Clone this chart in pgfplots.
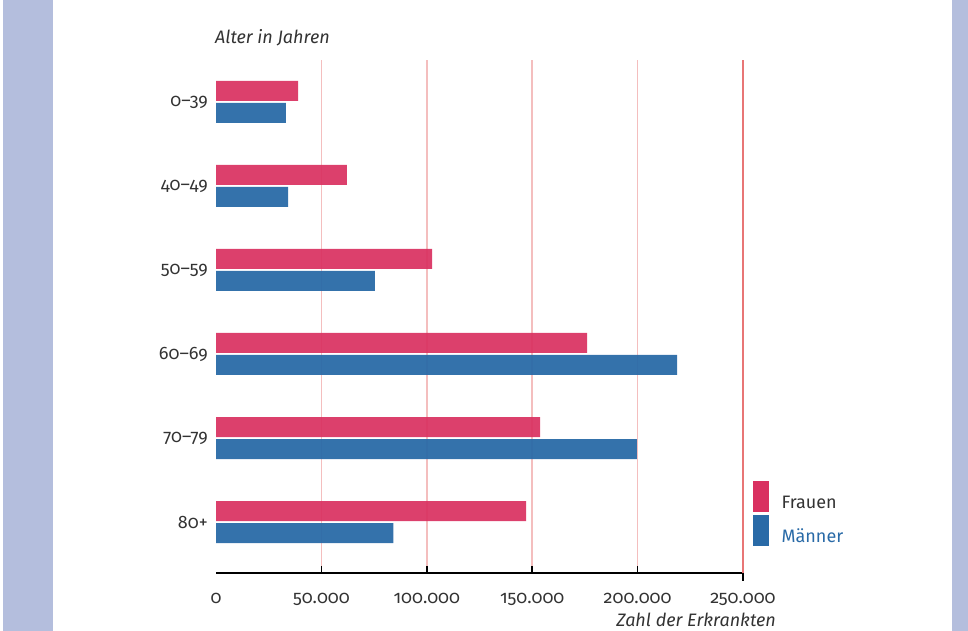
\documentclass[border=0pt]{standalone}
\usepackage{fontspec}
\setmainfont{Fira Sans}[Numbers=OldStyle]
\usepackage{pgfplots}
\pgfplotsset{compat=1.18}
\definecolor{frauen}{RGB}{217,48,96}
\definecolor{maenner}{RGB}{41,106,167}
\definecolor{band}{RGB}{180,190,221}
\definecolor{gridpink}{RGB}{244,190,190}
\definecolor{redline}{RGB}{232,118,118}
\definecolor{txt}{RGB}{51,51,51}
\begin{document}
\fontsize{18bp}{21bp}\selectfont
\begin{tikzpicture}[x=1bp,y=1bp]
\useasboundingbox (0,0) rectangle (968,631);
\clip (0,0) rectangle (968,631);
\fill[band] (3,0) rectangle (53,631);
\fill[band] (952,0) rectangle (968,631);
\begin{axis}[
  at={(216bp,58bp)}, anchor=south west,
  scale only axis, width=527bp, height=513bp,
  xmin=0, xmax=250000, ymin=-0.607, ymax=5.5,
  xbar, bar width=20bp,
  scaled x ticks=false,
  axis x line=bottom, axis y line=left,
  x axis line style={black, line width=2bp, -},
  y axis line style={draw=none, -},
  ytick style={draw=none},
  xtick={50000,100000,150000,200000},
  xticklabels={50.000,100.000,150.000,200.000},
  extra x ticks={0,250000}, extra x tick labels={0,250.000},
  extra x tick style={major tick length=0pt, grid=none},
  tick align=inside, major tick length=7bp,
  xtick style={black, line width=1.5bp},
  xmajorgrids, grid style={gridpink, line width=1.5bp},
  xticklabel style={font=\fontsize{18bp}{21bp}\selectfont, text=txt, yshift=-14bp},
  ytick={0,1,2,3,4,5},
  yticklabels={80+,70--79,60--69,50--59,40--49,0--39},
  yticklabel style={font=\fontsize{18bp}{21bp}\selectfont, text=txt, xshift=-2bp},
  legend style={at={(1.019,0.179)}, anchor=north west, draw=none, fill=none,
    inner sep=0pt, row sep=2bp, font=\fontsize{18bp}{21bp}\selectfont,
    /tikz/every odd column/.append style={column sep=11bp}},
  legend cell align=left,
]
\addplot[fill=frauen, draw=none, fill opacity=0.92, bar shift=11bp, forget plot]
  coordinates {(38900,5) (62100,4) (102500,3) (176000,2) (153700,1) (147100,0)};
\addplot[fill=maenner, draw=none, fill opacity=0.95, bar shift=-11bp, forget plot]
  coordinates {(33200,5) (34200,4) (75400,3) (218700,2) (199700,1) (84100,0)};
\addlegendimage{legend image code/.code={\fill[frauen] (0bp,-8bp) rectangle (15bp,22bp);}}
\addlegendentry{\textcolor{txt}{Frauen}}
\addlegendimage{legend image code/.code={\fill[maenner] (0bp,-8bp) rectangle (15bp,22bp);}}
\addlegendentry{\textcolor{maenner}{Männer}}
\coordinate (RB) at (rel axis cs:1,0);
\coordinate (RT) at (rel axis cs:1,1);
\end{axis}
\draw[redline, line width=2bp] (RB) -- (RT);
\draw[black, line width=1.5bp] (RB) -- ++(0,-8);
\node[anchor=base west, text=txt, font=\itshape\fontsize{18bp}{21bp}\selectfont, inner sep=0pt] at (215,587) {Alter in Jahren};
\node[anchor=base east, text=txt, font=\itshape\fontsize{18bp}{21bp}\selectfont, inner sep=0pt] at (776,4) {Zahl der Erkrankten};
\end{tikzpicture}
\end{document}
